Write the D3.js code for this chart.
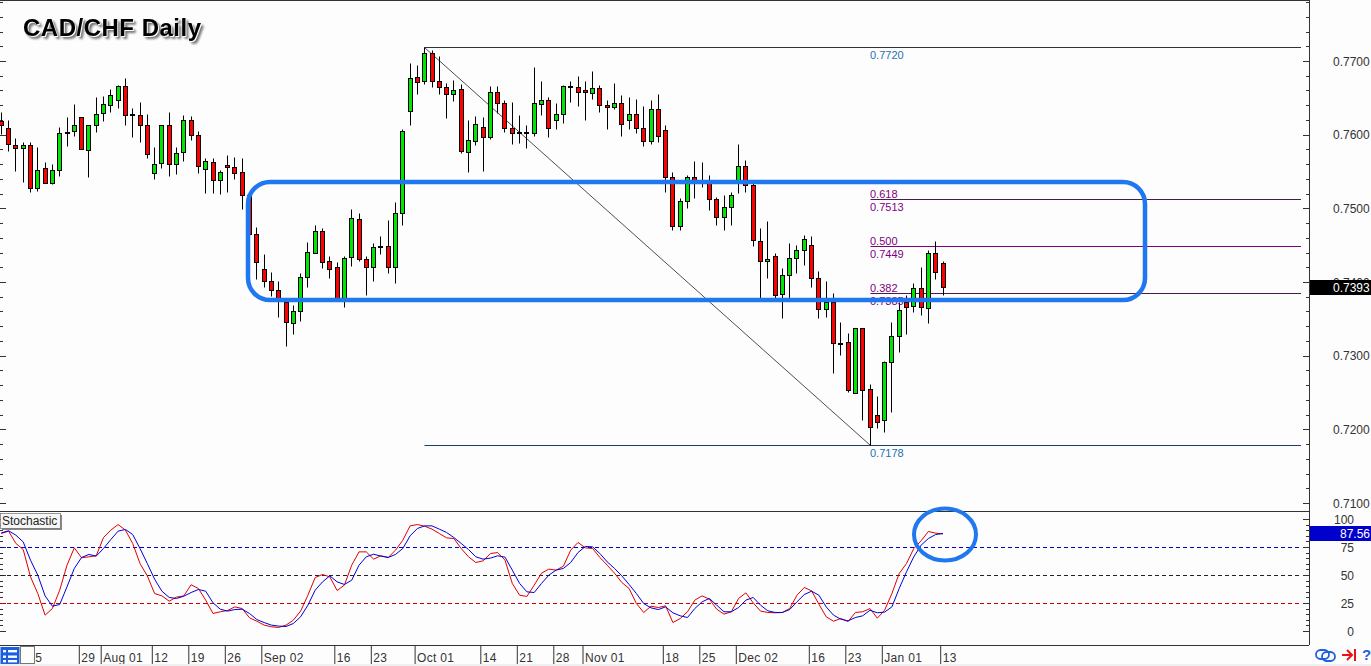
<!DOCTYPE html>
<html><head><meta charset="utf-8">
<script src="https://cdnjs.cloudflare.com/ajax/libs/d3/7.8.5/d3.min.js"></script>
<style>
html,body{margin:0;padding:0;background:#fdfdfd;overflow:hidden}
svg{display:block}
text{font-family:"Liberation Sans",Arial,sans-serif}
</style></head><body><div id="c"></div>
<script>
// Daily candles, prices in pips (0.7700 = 7700)
const opens=[7619,7609,7586,7582,7586,7528,7555,7535,7552,7603,7605,7624,7579,7613,7630,7640,7647,7666,7628,7627,7613,7548,7562,7613,7560,7577,7620,7600,7554,7563,7539,7559,7556,7550,7518,7465,7418,7402,7389,7373,7345,7361,7407,7440,7469,7429,7421,7378,7434,7486,7431,7421,7449,7449,7421,7494,7632,7678,7673,7711,7673,7665,7655,7662,7577,7592,7611,7597,7658,7643,7609,7604,7604,7602,7642,7647,7620,7628,7666,7665,7660,7657,7664,7640,7638,7643,7620,7628,7609,7592,7635,7606,7543,7476,7510,7543,7537,7535,7512,7488,7502,7536,7558,7531,7456,7429,7435,7384,7410,7433,7444,7450,7406,7364,7373,7317,7319,7250,7338,7255,7220,7213,7292,7327,7373,7368,7392,7365,7440,7426];
const highs=[7631,7620,7596,7590,7590,7583,7563,7560,7611,7624,7642,7624,7613,7651,7653,7662,7668,7677,7636,7645,7628,7583,7613,7631,7583,7627,7626,7605,7569,7569,7552,7573,7570,7569,7518,7475,7438,7414,7402,7378,7369,7412,7454,7478,7473,7435,7427,7435,7499,7494,7435,7453,7463,7484,7509,7608,7697,7695,7719,7715,7707,7670,7674,7669,7620,7626,7624,7666,7666,7647,7645,7627,7613,7692,7673,7651,7643,7668,7673,7680,7673,7687,7668,7647,7670,7654,7651,7649,7639,7647,7655,7613,7550,7514,7545,7564,7563,7545,7516,7518,7522,7588,7566,7535,7473,7483,7440,7419,7453,7450,7464,7463,7415,7402,7385,7346,7331,7338,7338,7262,7245,7293,7346,7373,7383,7398,7421,7444,7456,7429];
const lows=[7601,7578,7551,7536,7522,7524,7535,7533,7544,7585,7598,7581,7543,7604,7619,7631,7636,7613,7597,7590,7569,7540,7555,7544,7547,7564,7593,7548,7521,7521,7520,7522,7540,7499,7457,7404,7393,7381,7353,7313,7330,7347,7393,7440,7419,7406,7378,7366,7422,7429,7383,7402,7438,7412,7399,7478,7613,7655,7669,7665,7655,7623,7646,7575,7550,7586,7551,7594,7630,7604,7588,7589,7582,7598,7627,7597,7608,7616,7645,7639,7620,7649,7631,7608,7635,7598,7608,7602,7585,7588,7590,7522,7470,7470,7501,7514,7529,7498,7478,7471,7478,7521,7522,7449,7378,7406,7378,7351,7378,7412,7423,7393,7351,7353,7277,7301,7251,7250,7212,7179,7202,7197,7224,7305,7330,7359,7355,7345,7404,7383];
const closes=[7613,7588,7582,7586,7527,7552,7535,7552,7602,7602,7613,7581,7613,7628,7642,7654,7666,7627,7627,7613,7574,7560,7613,7560,7575,7620,7600,7558,7564,7539,7550,7556,7548,7518,7465,7427,7402,7389,7376,7346,7361,7407,7441,7469,7427,7418,7378,7433,7487,7431,7421,7448,7448,7421,7494,7605,7677,7672,7711,7673,7665,7655,7661,7578,7593,7615,7597,7658,7643,7609,7602,7603,7603,7643,7647,7609,7628,7666,7665,7658,7658,7664,7640,7638,7643,7615,7628,7609,7592,7635,7598,7543,7476,7510,7543,7536,7536,7512,7488,7502,7518,7558,7531,7457,7429,7431,7383,7410,7433,7444,7459,7406,7364,7373,7317,7316,7254,7338,7254,7203,7210,7292,7327,7362,7366,7392,7366,7440,7414,7393];
// Stochastic
const stochMain=[87.5,89.6,78.6,73.2,48.8,33.9,14.6,20.5,36.9,59.2,74.7,65.8,66.7,67.6,83.9,90.5,95.5,90.5,78.6,60.7,49.7,33.9,31.8,27.1,30.7,31.8,41.7,38.4,28,16.1,17.6,18.8,22,20.5,12.2,9.2,5.7,4.2,3.6,5.7,10.1,18.2,32.4,48.2,50.9,48.8,36.6,
41.4,59.2,71.1,71.1,64.6,67.6,66.1,72.6,81.5,94.3,95.5,94,91.4,87.5,83.6,83,74.1,66.7,61.6,63.1,69.6,70.5,63.7,42.9,32.4,31.3,41.4,52.1,55.7,54.8,58.3,72.6,79.5,74.7,74.1,66.1,59.2,52.1,43.8,38.4,25,17,22.6,21.4,22.9,
8,11.6,17.6,28,31.8,28.9,19.9,15.5,17.6,29.5,34.5,25.6,18.2,17,16.7,17,20.5,32.4,39.3,36.3,24.4,13.1,9.2,11.6,8.9,17,17.6,20.5,11.9,19,33.9,51.8,60.7,74.1,81,89.3,87.8,87.2];
const stochSignal=[88.1,89.9,86,80,63.7,50.3,31.8,22.6,24.1,39.9,56.3,66.1,68.8,67.3,74.1,82.1,89.6,91.1,86.6,74.1,60.7,46.7,36,30.4,29.5,31.5,34.8,37.5,36,25.6,19.9,18.2,19.6,19.9,16.1,10.7,8,5.7,4.8,4.5,7.1,13.1,23.5,36.9,44.3,49.7,44.3,
42,45.8,59.2,66.7,69,67.3,66.1,68.8,74.1,85.4,92,94.3,94.3,91.4,88.4,83.9,78.6,73.2,66.7,64.6,65.5,67.6,66.4,54.8,42.9,35.4,34.8,42.9,50.3,54.8,56.3,61.6,70.5,75.9,75.6,69.6,62.2,56.3,49.7,42,33.9,25,21.1,19.6,22,
16.7,14,12.5,20.5,26.5,29.5,23.5,17.6,17.6,21.4,28,30.4,23.5,18.5,17,17,19.6,26.5,33,36,32.4,22,14.6,11,9.5,12.5,14,19,16.7,17.3,22,38.4,53.3,66.7,77.1,83,86.6,87.5];
// Axis labels
const priceLabels=[7100,7200,7300,7400,7500,7600,7700];
const stochLabels=[0,25,50,75,100];
const dateIndex=[4,11,14,21,26,31,36,46,51,57,66,71,76,80,91,96,101,111,116,121,129];
const dateLabels=["5","29","Aug 01","12","19","26","Sep 02","16","23","Oct 01","14","21","28","Nov 01","18","25","Dec 02","16","23","Jan 01","13"];
// Fibonacci levels
const fibHigh=7720, fibLow=7178;
const fibLevels=[{r:"0.618",p:7513},{r:"0.500",p:7449},{r:"0.382",p:7385}];
const lastPrice=7393, lastStoch=87.56;
const fibStartIndex=58, fibEndIndex=119;

const W=1371,H=666;
const svg=d3.select("#c").append("svg").attr("width",W).attr("height",H);
svg.append("rect").attr("width",W).attr("height",H).attr("fill","#fdfdfd");
const RIGHT=1309, MID=511, BOT=645, LINE_END=1301;

const x=d3.scaleLinear().domain([0,129]).range([1.3,943]);
const px=i=>Math.floor(x(i))+.5;
const y=d3.scaleLinear().domain([7100,7700]).range([503,61]);
const py=v=>Math.round(y(v))+.5;
const s=d3.scaleLinear().domain([0,100]).range([631.5,519.5]);
const sy=v=>Math.floor(s(v))+.5;
const AX="#333";
const yHigh=py(fibHigh)+1;

// frame
const frame=svg.append("g").attr("stroke",AX).attr("fill","none");
frame.append("line").attr("x1",0).attr("x2",W-61).attr("y1",.5).attr("y2",.5);
frame.append("line").attr("x1",0).attr("x2",RIGHT).attr("y1",MID+.5).attr("y2",MID+.5);
frame.append("line").attr("x1",0).attr("x2",RIGHT).attr("y1",BOT+.5).attr("y2",BOT+.5);
frame.append("line").attr("x1",RIGHT+.5).attr("x2",RIGHT+.5).attr("y1",0).attr("y2",BOT);

// price grid ticks
const priceTicks=d3.range(7100,7784,20);
const ticks=svg.append("g").attr("stroke",AX);
priceTicks.forEach(p=>{
  const major=p%100===0, yy=py(p);
  ticks.append("line").attr("x1",0).attr("x2",major?6:3).attr("y1",yy).attr("y2",yy);
  ticks.append("line").attr("x1",RIGHT-(major?6:3)).attr("x2",RIGHT).attr("y1",yy).attr("y2",yy);
});
d3.range(0,101,5).forEach(v=>{
  const major=v%25===0, yy=sy(v);
  ticks.append("line").attr("x1",0).attr("x2",major?6:3).attr("y1",yy).attr("y2",yy);
  ticks.append("line").attr("x1",RIGHT-(major?6:3)).attr("x2",RIGHT).attr("y1",yy).attr("y2",yy);
});

// fib lines
const fib=svg.append("g");
fib.append("line").attr("x1",px(fibStartIndex)).attr("x2",LINE_END).attr("y1",yHigh).attr("y2",yHigh).attr("stroke","#333");
fib.append("line").attr("x1",px(fibStartIndex)).attr("x2",LINE_END).attr("y1",py(fibLow)-1).attr("y2",py(fibLow)-1).attr("stroke","#1c3f66");
fib.append("line").attr("x1",px(fibStartIndex)).attr("x2",px(fibEndIndex)).attr("y1",yHigh).attr("y2",py(fibLow)-1).attr("stroke","#222").attr("stroke-width",.8);
fibLevels.forEach((f,k)=>{
  fib.append("line").attr("x1",px(fibEndIndex)).attr("x2",LINE_END).attr("y1",py(f.p)).attr("y2",py(f.p))
    .attr("stroke",k===1?"#800080":"#4a1a4a");
});

// candles
const candles=svg.append("g");
opens.forEach((o,i)=>{
  const c=closes[i],cx=px(i);
  candles.append("line").attr("x1",cx).attr("x2",cx).attr("y1",py(highs[i])).attr("y2",py(lows[i])).attr("stroke","#000");
  const t=py(Math.max(o,c)),b=py(Math.min(o,c));
  candles.append("rect").attr("x",cx-2).attr("width",4).attr("y",t).attr("height",Math.max(b-t,1))
    .attr("fill",c>o?"#00e600":c<o?"#ff0000":"#000").attr("stroke","#000");
});

// fib labels
const lab=svg.append("g").attr("font-size",11);
const fx=870;
lab.append("text").attr("x",fx).attr("y",yHigh+11).attr("fill","#1f6fb0").text("0.7720");
lab.append("text").attr("x",fx).attr("y",y(fibLow)+11).attr("fill","#1f6fb0").text("0.7178");
fibLevels.forEach(f=>{
  lab.append("text").attr("x",fx).attr("y",y(f.p)-1).attr("fill","#800080").text(f.r);
  lab.append("text").attr("x",fx).attr("y",y(f.p)+12).attr("fill","#800080").text("0."+f.p);
});

// stochastic levels + lines
[[75,"#0000c0"],[50,"#222"],[25,"#c80000"]].forEach(([v,col])=>{
  const yy=sy(v);
  svg.append("line").attr("x1",0).attr("x2",LINE_END).attr("y1",yy).attr("y2",yy).attr("stroke",col).attr("stroke-dasharray","4,3");
});
const ln=d3.line().x((d,i)=>x(i)).y(d=>s(d));
svg.append("path").attr("d",ln(stochMain)).attr("fill","none").attr("stroke","#e00000").attr("stroke-width",1);
svg.append("path").attr("d",ln(stochSignal)).attr("fill","none").attr("stroke","#0000dd").attr("stroke-width",1);

// price axis
const axP=d3.axisRight(y).tickValues(priceLabels).tickSize(0).tickPadding(0).tickFormat(v=>(v/10000).toFixed(4));
const gP=svg.append("g").attr("transform","translate(1333,0)").call(axP);
gP.select(".domain").remove();
gP.selectAll("text").attr("font-size",12).attr("font-family",'"Liberation Sans"').attr("fill","#333").attr("dy","0.36em");

// stoch axis
const axS=d3.axisRight(s).tickValues(stochLabels).tickSize(0).tickPadding(0);
const gS=svg.append("g").attr("transform","translate(1354,0)").call(axS);
gS.select(".domain").remove();
gS.selectAll("text").attr("font-size",12).attr("font-family",'"Liberation Sans"').attr("fill","#333").attr("text-anchor","end").attr("dy","0.36em");

// current-value tags
const tag=svg.append("g");
tag.append("rect").attr("x",RIGHT+1).attr("y",280).attr("width",W-RIGHT).attr("height",15).attr("fill","#000");
tag.append("text").attr("x",1333).attr("y",292).attr("font-size",12).attr("fill","#fff").text((lastPrice/10000).toFixed(4));
tag.append("rect").attr("x",RIGHT+1).attr("y",526).attr("width",W-RIGHT).attr("height",15).attr("fill","#0000cc");
tag.append("text").attr("x",1370).attr("y",538).attr("text-anchor","end").attr("font-size",12).attr("fill","#fff").text(lastStoch.toFixed(2));

// date axis
const axX=d3.axisBottom(x.copy().range([x(0)-2.8,x(129)-2.8])).tickValues(dateIndex).tickSize(19).tickPadding(0).tickFormat((d,i)=>dateLabels[i]);
const gX=svg.append("g").attr("transform",`translate(0,${BOT})`).call(axX);
gX.select(".domain").remove();
gX.selectAll("line").attr("stroke","#333");
gX.selectAll("text").attr("font-size",12).attr("font-family",'"Liberation Sans"').attr("fill","#333")
  .attr("letter-spacing",0.3).attr("text-anchor","start").attr("x",2).attr("y",17).attr("dy",0);
gX.selectAll(".tick").filter((d,i)=>i===0).select("line").remove();
gX.selectAll(".tick").filter((d,i)=>i===0).select("text").attr("x",7);

// bottom strip
svg.append("rect").attr("x",0).attr("y",664).attr("width",W).attr("height",2).attr("fill","#f0f0f0");

// bottom-left buttons
svg.append("rect").attr("x",0.5).attr("y",647).attr("width",19).attr("height",17).attr("fill","#1a5fe0");
[650,655.5,660].forEach(yy=>{
  svg.append("rect").attr("x",3).attr("y",yy).attr("width",3).attr("height",2.4).attr("fill","#fff");
  svg.append("rect").attr("x",8).attr("y",yy).attr("width",9).attr("height",2.4).attr("fill","#fff");
});
svg.append("rect").attr("x",20.5).attr("y",646.5).attr("width",14).attr("height",17).attr("fill","#fdfdfd").attr("stroke","#777");

// Stochastic caption
svg.append("rect").attr("x",2).attr("y",515).attr("width",60).attr("height",15).attr("fill","#888");
svg.append("rect").attr("x",0.5).attr("y",513.5).attr("width",60).attr("height",15).attr("fill","#f6f6f6").attr("stroke","#555").attr("stroke-width",.6);
svg.append("text").attr("x",2).attr("y",525).attr("font-size",12).attr("fill","#222").text("Stochastic");

// annotations
const BLUE="#1f78f0";
svg.append("rect").attr("x",248).attr("y",182).attr("width",897).attr("height",118).attr("rx",22).attr("ry",22)
  .attr("fill","none").attr("stroke",BLUE).attr("stroke-width",4.5);
svg.append("ellipse").attr("cx",945).attr("cy",534.5).attr("rx",31).attr("ry",26)
  .attr("fill","none").attr("stroke",BLUE).attr("stroke-width",4);

// title
svg.append("text").attr("x",23).attr("y",36).attr("font-size",24).attr("font-weight","bold").attr("fill","#000").attr("letter-spacing",0.5)
  .attr("style",'font-family:"Liberation Sans";filter:drop-shadow(1px 1px 0 #fff) drop-shadow(2px 2px 1px #777)').text("CAD/CHF Daily");

// bottom-right icons
const ic=svg.append("g").attr("fill","none");
ic.append("rect").attr("x",1316).attr("y",650).attr("width",13).attr("height",9).attr("rx",4.5).attr("stroke","#1f60e0").attr("stroke-width",1.8);
ic.append("rect").attr("x",1322).attr("y",652).attr("width",13).attr("height",9).attr("rx",4.5).attr("stroke","#1f60e0").attr("stroke-width",1.8);
ic.append("path").attr("d","M1342 655H1352M1347 650L1352 655L1347 660").attr("stroke","#f01010").attr("stroke-width",2);
ic.append("path").attr("d","M1355 649V661").attr("stroke","#f01010").attr("stroke-width",2);
svg.append("text").attr("x",1362).attr("y",660).attr("font-size",15).attr("font-weight","bold").attr("fill","#1f60e0").text("?");
</script></body></html>
